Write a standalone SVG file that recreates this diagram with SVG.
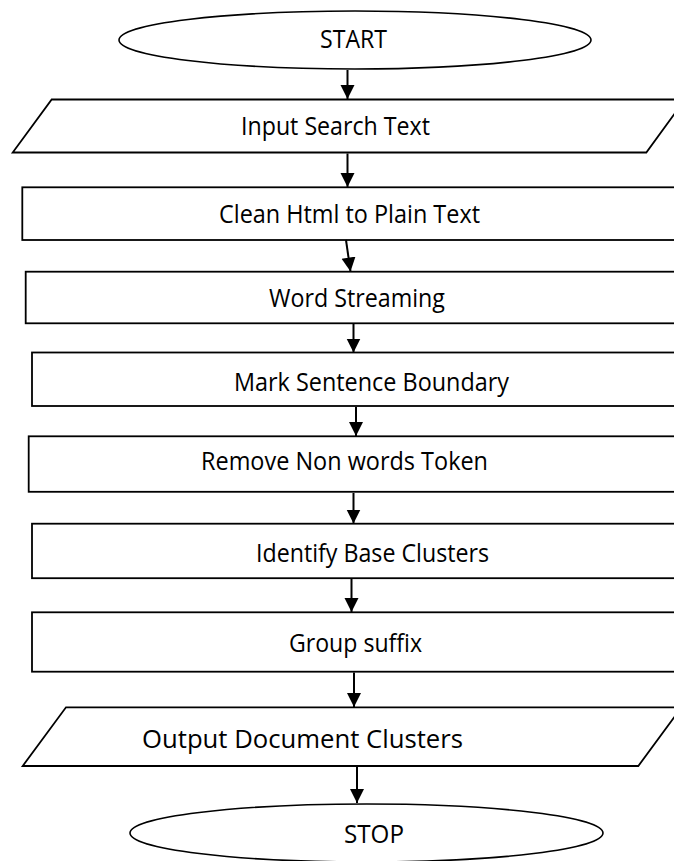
<svg xmlns="http://www.w3.org/2000/svg" width="674" height="861" viewBox="0 0 674 861">
  <style>
    .shape { fill: #ffffff; stroke: #000000; stroke-width: 1.8; }
    .term { fill: #ffffff; stroke: #000000; stroke-width: 1.6; }
    .label { font-family: "Open Sans", "Noto Sans", "Liberation Sans", sans-serif; font-size: 25px; fill: #000000; }
    .edge { stroke: #000000; stroke-width: 2; fill: none; marker-end: url(#arrow); }
  </style>
  <defs>
    <marker id="arrow" markerUnits="userSpaceOnUse" markerWidth="14" markerHeight="15" refX="14" refY="7" orient="auto">
      <path d="M0,0 L14,7 L0,14 z" fill="#000000"/>
    </marker>
  </defs>
  <rect width="674" height="861" fill="#ffffff"/>

  <!-- flow nodes -->
  <g id="start">
    <ellipse class="term" cx="355" cy="40" rx="236" ry="29"/>
    <text class="label" x="320" y="48" textLength="67" lengthAdjust="spacingAndGlyphs">START</text>
  </g>
  <g id="input-search-text">
    <polygon class="shape" points="51.7,99.5 685,99.5 646.3,152.5 12.7,152.5"/>
    <text class="label" x="241" y="135" textLength="189" lengthAdjust="spacingAndGlyphs">Input Search Text</text>
  </g>
  <g id="clean-html">
    <rect class="shape" x="22.3" y="187.3" width="670" height="52.7"/>
    <text class="label" x="219" y="223" textLength="261" lengthAdjust="spacingAndGlyphs">Clean Html to Plain Text</text>
  </g>
  <g id="word-streaming">
    <rect class="shape" x="25.7" y="271.7" width="670" height="51.6"/>
    <text class="label" x="269" y="307" textLength="176" lengthAdjust="spacingAndGlyphs">Word Streaming</text>
  </g>
  <g id="mark-sentence-boundary">
    <rect class="shape" x="32" y="352.5" width="670" height="53.5"/>
    <text class="label" x="234" y="391" textLength="275" lengthAdjust="spacingAndGlyphs">Mark Sentence Boundary</text>
  </g>
  <g id="remove-non-words">
    <rect class="shape" x="28.7" y="436.3" width="670" height="55.5"/>
    <text class="label" x="201" y="470" textLength="287" lengthAdjust="spacingAndGlyphs">Remove Non words Token</text>
  </g>
  <g id="identify-base-clusters">
    <rect class="shape" x="32" y="523.7" width="670" height="54.5"/>
    <text class="label" x="256" y="562" textLength="233" lengthAdjust="spacingAndGlyphs">Identify Base Clusters</text>
  </g>
  <g id="group-suffix">
    <rect class="shape" x="32" y="612.3" width="670" height="59.4"/>
    <text class="label" x="289" y="652" textLength="133" lengthAdjust="spacingAndGlyphs">Group suffix</text>
  </g>
  <g id="output-document-clusters">
    <polygon class="shape" points="66,707.3 681.6,707.3 638.3,766 22.7,766"/>
    <text class="label" x="142" y="748" textLength="321" lengthAdjust="spacingAndGlyphs">Output Document Clusters</text>
  </g>
  <g id="stop">
    <ellipse class="term" cx="366.5" cy="833" rx="236.5" ry="29"/>
    <text class="label" x="344" y="843" textLength="60" lengthAdjust="spacingAndGlyphs">STOP</text>
  </g>

  <!-- connectors -->
  <g id="connectors">
    <line class="edge" x1="347.5" y1="70" x2="347.5" y2="99"/>
    <line class="edge" x1="347.5" y1="153.5" x2="347.5" y2="187"/>
    <line class="edge" x1="346" y1="240" x2="350.5" y2="271.5"/>
    <line class="edge" x1="353.5" y1="324" x2="353.5" y2="352.5"/>
    <line class="edge" x1="356" y1="407" x2="356" y2="436"/>
    <line class="edge" x1="353.5" y1="493" x2="353.5" y2="523.5"/>
    <line class="edge" x1="351.5" y1="579" x2="351.5" y2="612"/>
    <line class="edge" x1="354" y1="672.5" x2="354" y2="707"/>
    <line class="edge" x1="357" y1="767" x2="357" y2="803"/>
  </g>
</svg>
